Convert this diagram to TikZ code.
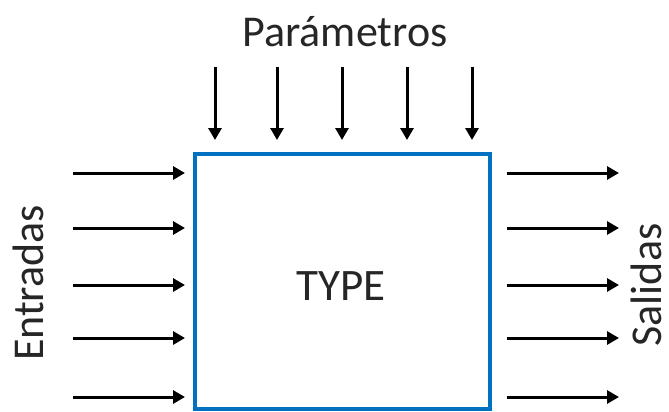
\documentclass[tikz,border=0pt]{standalone}
\usepackage{fontspec}
\setmainfont{Carlito}
\usetikzlibrary{arrows.meta}
\begin{document}
\begin{tikzpicture}[x=1pt,y=-1pt,
  arr/.style={line width=3pt,-{Triangle[length=12pt,width=13pt]}},
  lbl/.style={inner sep=0pt,font=\fontsize{44}{44}\selectfont,text=black!85}]
\useasboundingbox (0,0) rectangle (669,412);
\node[draw={rgb,255:red,0;green,112;blue,192},line width=4pt,minimum width=295pt,minimum height=255pt,inner sep=0pt] (box) at (342.5,281.5) {};
\node[lbl,font=\fontsize{45}{45}\selectfont] (type) at (341,286) {TYPE};
\node[lbl] (par) at (345,32) {Parámetros};
\node[lbl,rotate=90] (ent) at (28,283) {Entradas};
\node[lbl,rotate=90,text depth=0pt,anchor=south] (sal) at (662,285) {Salidas};
\foreach \i/\y in {1/173,2/228,3/285,4/338,5/397}{
  \coordinate (li\i) at (73,\y);
  \coordinate (le\i) at (185,\y);
  \coordinate (ri\i) at (507,\y);
  \coordinate (re\i) at (619,\y);
  \draw[arr] (li\i) -- (le\i);
  \draw[arr] (ri\i) -- (re\i);
}
\foreach \i/\x in {1/215,2/277,3/342,4/407,5/472}{
  \coordinate (ts\i) at (\x,67);
  \coordinate (te\i) at (\x,140);
  \draw[arr] (ts\i) -- (te\i);
}
\end{tikzpicture}
\end{document}
